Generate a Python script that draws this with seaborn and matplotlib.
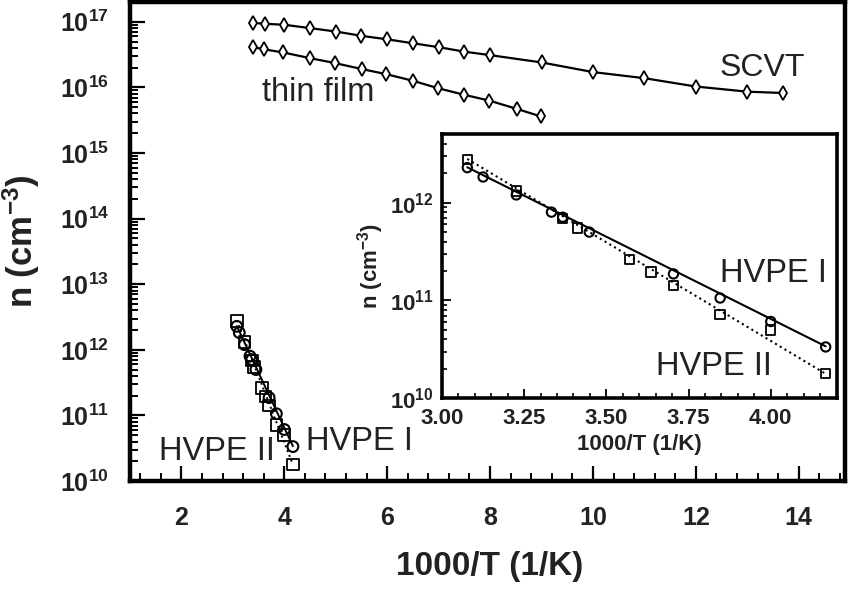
import math
import matplotlib
matplotlib.use('Agg')
import matplotlib.pyplot as plt
import matplotlib.ticker as mticker
import seaborn as sns

# ---------------- data ----------------
scvt_x = [3.40, 3.63, 4.00, 4.50, 5.00, 5.50, 6.00, 6.50, 7.00, 7.50, 8.00,
          9.00, 10.0, 11.0, 12.0, 13.0, 13.7]
scvt_n = [9.6e16, 9.3e16, 9.0e16, 8.0e16, 7.1e16, 6.1e16, 5.4e16, 4.7e16,
          4.1e16, 3.5e16, 3.1e16, 2.4e16, 1.71e16, 1.38e16, 1.03e16, 8.6e15, 8.2e15]

film_x = [3.40, 3.61, 3.98, 4.49, 4.99, 5.51, 5.98, 6.50, 6.99, 7.50, 7.98, 8.52, 8.99]
film_n = [4.1e16, 3.8e16, 3.4e16, 2.8e16, 2.34e16, 1.9e16, 1.59e16, 1.26e16,
          9.7e15, 7.7e15, 6.3e15, 4.7e15, 3.6e15]

hvpe1_x = [3.077, 3.125, 3.226, 3.333, 3.367, 3.448, 3.704, 3.846, 4.000, 4.167]
hvpe1_n = [2.28e12, 1.83e12, 1.20e12, 8.0e11, 7.1e11, 5.0e11, 1.87e11, 1.06e11, 6.1e10, 3.35e10]

hvpe2_x = [3.077, 3.226, 3.367, 3.413, 3.571, 3.636, 3.704, 3.846, 4.000, 4.167]
hvpe2_n = [2.76e12, 1.32e12, 6.9e11, 5.5e11, 2.64e11, 1.95e11, 1.42e11, 7.2e10, 5.0e10, 1.78e10]

hvpe1_fit_x = [3.077, 4.167]
hvpe1_fit_n = [2.3e12, 3.4e10]
hvpe2_fit_x = [3.077, 4.167]
hvpe2_fit_n = [2.8e12, 1.78e10]

main_xticks = [2, 4, 6, 8, 10, 12, 14]
inset_xticks = [3.00, 3.25, 3.50, 3.75, 4.00]

# ---------------- style ----------------
sns.set_theme(style='white')
plt.rcParams['font.family'] = ['Liberation Sans', 'DejaVu Sans']
plt.rcParams['font.weight'] = 'bold'
plt.rcParams['mathtext.fontset'] = 'custom'
plt.rcParams['mathtext.rm'] = 'Liberation Sans'
plt.rcParams['mathtext.bf'] = 'Liberation Sans:bold'
plt.rcParams['mathtext.it'] = 'Liberation Sans:italic'
plt.rcParams['axes.edgecolor'] = 'black'
plt.rcParams['xtick.color'] = 'black'
plt.rcParams['ytick.color'] = 'black'

TXT = '#222222'


def pow10(v, p):
    return r'$\mathbf{10^{%d}}$' % round(math.log10(v))


fig = plt.figure(figsize=(8.49, 5.90), dpi=100)
ax = fig.add_axes([0.1531, 0.1847, 0.8422, 0.8119])
ax.set_yscale('log')

# main series
sns.lineplot(x=scvt_x, y=scvt_n, ax=ax, color='black', lw=1.6, marker='d', ms=7.5,
             mfc='white', mec='black', mew=1.3, estimator=None, sort=False)
sns.lineplot(x=film_x, y=film_n, ax=ax, color='black', lw=1.6, marker='d', ms=7.5,
             mfc='white', mec='black', mew=1.3, estimator=None, sort=False)

sns.lineplot(x=hvpe1_fit_x, y=hvpe1_fit_n, ax=ax, color='black', lw=1.4, estimator=None)
sns.lineplot(x=hvpe2_fit_x, y=hvpe2_fit_n, ax=ax, color='black', lw=1.4, linestyle=':', estimator=None)
sns.scatterplot(x=hvpe2_x, y=hvpe2_n, ax=ax, marker='s', s=70, color='black',
                facecolor='none', edgecolor='black', linewidth=1.3, zorder=3)
sns.scatterplot(x=hvpe1_x, y=hvpe1_n, ax=ax, marker='o', s=60, color='black',
                facecolor='none', edgecolor='black', linewidth=1.5, zorder=3)

ax.set_xlim(1.0, 14.9)
ax.set_ylim(1e10, 2e17)

ax.xaxis.set_major_locator(mticker.FixedLocator(main_xticks))
ax.xaxis.set_minor_locator(mticker.MultipleLocator(0.4))
ax.xaxis.set_major_formatter(mticker.FuncFormatter(lambda v, p: f'{v:.0f}'))
ax.yaxis.set_major_locator(mticker.LogLocator(base=10, numticks=20))
ax.yaxis.set_minor_locator(mticker.LogLocator(base=10, subs=[2, 3, 4, 5, 6, 7, 8, 9], numticks=20))
ax.yaxis.set_minor_formatter(mticker.NullFormatter())
ax.yaxis.set_major_formatter(mticker.FuncFormatter(pow10))

ax.tick_params(which='both', direction='in', top=False, right=False,
               left=True, bottom=True, labelcolor=TXT)
ax.tick_params(which='major', length=11, width=1.6, labelsize=18)
ax.tick_params(which='minor', length=5.5, width=1.4)
ax.tick_params(axis='x', which='major', pad=18)
ax.tick_params(axis='y', which='major', pad=15)
for sp in ax.spines.values():
    sp.set_visible(True)
    sp.set_linewidth(3.2)
    sp.set_color('black')

ax.set_xlabel('1000/T (1/K)', fontsize=24, fontweight='bold', color=TXT)
ax.set_ylabel(r'n (cm$^{\mathbf{-3}}$)', fontsize=25, fontweight='bold', color=TXT)
ax.xaxis.set_label_coords(0.503, -0.146)
ax.yaxis.set_label_coords(-0.123, 0.5)

ax.text(13.29, 1.47e16, 'SCVT', ha='center', va='baseline', fontsize=23,
        fontweight='normal', color=TXT)
ax.text(4.66, 6.1e15, 'thin film', ha='center', va='baseline', fontsize=23.5,
        fontweight='normal', color=TXT)
ax.text(2.69, 2.1e10, 'HVPE II', ha='center', va='baseline', fontsize=23.5,
        fontweight='normal', color=TXT)
ax.text(5.46, 3.0e10, 'HVPE I', ha='center', va='baseline', fontsize=23.5,
        fontweight='normal', color=TXT)

# ---------------- inset ----------------
axi = fig.add_axes([0.5206, 0.3249, 0.4647, 0.4475])
axi.set_yscale('log')
sns.lineplot(x=hvpe1_fit_x, y=hvpe1_fit_n, ax=axi, color='black', lw=1.5, estimator=None)
sns.lineplot(x=hvpe2_fit_x, y=hvpe2_fit_n, ax=axi, color='black', lw=1.5, linestyle=':', estimator=None)
sns.scatterplot(x=hvpe2_x, y=hvpe2_n, ax=axi, marker='s', s=45, color='black',
                facecolor='none', edgecolor='black', linewidth=1.3, zorder=3)
sns.scatterplot(x=hvpe1_x, y=hvpe1_n, ax=axi, marker='o', s=45, color='black',
                facecolor='none', edgecolor='black', linewidth=1.5, zorder=3)
axi.set_xlim(3.0, 4.2)
axi.set_ylim(1e10, 5e12)
axi.set_facecolor('white')

axi.xaxis.set_major_locator(mticker.FixedLocator(inset_xticks))
axi.xaxis.set_minor_locator(mticker.MultipleLocator(0.05))
axi.xaxis.set_major_formatter(mticker.FuncFormatter(lambda v, p: f'{v:.2f}'))
axi.yaxis.set_major_locator(mticker.LogLocator(base=10, numticks=20))
axi.yaxis.set_minor_locator(mticker.LogLocator(base=10, subs=[2, 3, 4, 5, 6, 7, 8, 9], numticks=20))
axi.yaxis.set_minor_formatter(mticker.NullFormatter())
axi.yaxis.set_major_formatter(mticker.FuncFormatter(pow10))
axi.tick_params(which='both', direction='in', top=False, right=False,
                left=True, bottom=True, labelcolor=TXT)
axi.tick_params(which='major', length=6.5, width=1.3, labelsize=16)
axi.tick_params(axis='x', which='major', pad=7)
axi.tick_params(axis='y', which='major', pad=6)
axi.tick_params(which='minor', length=3.5, width=1.2)
for sp in axi.spines.values():
    sp.set_visible(True)
    sp.set_linewidth(2.6)
    sp.set_color('black')

axi.set_xlabel('1000/T (1/K)', fontsize=16, fontweight='bold', color=TXT)
axi.set_ylabel(r'n (cm$^{\mathbf{-3}}$)', fontsize=16, fontweight='bold', color=TXT)
axi.xaxis.set_label_coords(0.5, -0.135)
axi.yaxis.set_label_coords(-0.142, 0.5)

axi.text(4.009, 1.54e11, 'HVPE I', ha='center', va='baseline', fontsize=23.5,
         fontweight='normal', color=TXT)
axi.text(3.827, 1.73e10, 'HVPE II', ha='center', va='baseline', fontsize=23.5,
         fontweight='normal', color=TXT)

fig.savefig('out.png', dpi=100, facecolor='white')
